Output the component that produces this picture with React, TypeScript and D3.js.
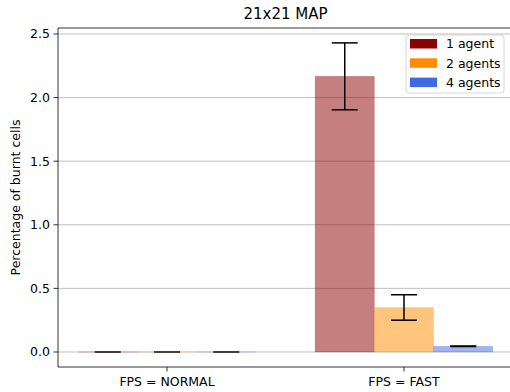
import React from 'react';
import * as d3 from 'd3';

const groups = ['FPS = NORMAL', 'FPS = FAST'];
const agentLabels = ['1 agent', '2 agents', '4 agents'];
const agentColors = ['#8b0000', '#ff8c00', '#4169e1'];
const means1 = [0, 2.167];
const errs1 = [0, 0.263];
const means2 = [0, 0.35];
const errs2 = [0, 0.1];
const means4 = [0, 0.045];
const errs4 = [0, 0.002];
const yTicks = [0, 0.5, 1.0, 1.5, 2.0, 2.5];

const W = 510;
const H = 392;
const left = 58, right = 513, top = 28, bottom = 367;
const barW = 0.25;
const font = 'DejaVu Sans, sans-serif';

const App = () => {
  const x = d3.scaleLinear().domain([-0.46, 1.46]).range([left, right]);
  const y = d3.scaleLinear().domain([-0.118, 2.547]).range([bottom, top]);
  const series = [
    { means: means1, errs: errs1 },
    { means: means2, errs: errs2 },
    { means: means4, errs: errs4 },
  ];
  const bw = x(barW) - x(0);

  return (
    <svg width={W} height={H} style={{ position: 'absolute', left: 0, top: 0, background: '#fff' }}>
      {/* grid */}
      {yTicks.map(t => (
        <line key={t} x1={left} x2={right} y1={y(t)} y2={y(t)} stroke="#b0b0b0" strokeWidth={0.8} />
      ))}
      {/* bars */}
      {series.map((s, si) =>
        groups.map((g, gi) => {
          const cx = x(gi + (si - 1) * barW);
          const x0 = cx - bw / 2;
          const y0 = y(0);
          const y1 = y(s.means[gi]);
          const p = d3.path();
          p.moveTo(x0, y0);
          p.lineTo(x0, y1);
          p.lineTo(x0 + bw, y1);
          p.lineTo(x0 + bw, y0);
          p.closePath();
          return (
            <path key={`${si}-${gi}`} d={p.toString()} fill={agentColors[si]} fillOpacity={0.5}
              stroke={agentColors[si]} strokeOpacity={0.15} strokeWidth={1} />
          );
        })
      )}
      {/* error bars */}
      {series.map((s, si) =>
        groups.map((g, gi) => {
          const cx = x(gi + (si - 1) * barW);
          const lo = y(s.means[gi] - s.errs[gi]);
          const hi = y(s.means[gi] + s.errs[gi]);
          return (
            <g key={`e${si}-${gi}`} stroke="#000" strokeWidth={1.5} strokeOpacity={s.errs[gi] === 0 ? 0.6 : 1}>
              <line x1={cx} x2={cx} y1={lo} y2={hi} />
              <line x1={cx - 13} x2={cx + 13} y1={lo} y2={lo} />
              <line x1={cx - 13} x2={cx + 13} y1={hi} y2={hi} />
            </g>
          );
        })
      )}
      {/* axes */}
      <line x1={left} x2={left} y1={top} y2={bottom} stroke="#000" strokeWidth={0.8} />
      <line x1={left} x2={right} y1={top} y2={top} stroke="#000" strokeWidth={0.8} />
      <line x1={left} x2={right} y1={bottom} y2={bottom} stroke="#000" strokeWidth={0.8} />
      {yTicks.map(t => (
        <g key={`yt${t}`}>
          <line x1={left - 4.5} x2={left} y1={y(t)} y2={y(t)} stroke="#000" strokeWidth={0.8} />
          <text x={left - 8} y={y(t)} dy="0.35em" textAnchor="end" fontFamily={font} fontSize={12.5} fill="#000">
            {t.toFixed(1)}
          </text>
        </g>
      ))}
      {groups.map((g, gi) => (
        <g key={g}>
          <line x1={x(gi)} x2={x(gi)} y1={bottom} y2={bottom + 4.5} stroke="#000" strokeWidth={0.8} />
          <text x={x(gi)} y={bottom + 19} textAnchor="middle" fontFamily={font} fontSize={12.5} fill="#000">
            {g}
          </text>
        </g>
      ))}
      <text transform={`translate(20,${(top + bottom) / 2}) rotate(-90)`} textAnchor="middle"
        fontFamily={font} fontSize={12.5} fill="#000">Percentage of burnt cells</text>
      <text x={(left + right) / 2} y={19} textAnchor="middle" fontFamily={font} fontSize={15} fill="#000">21x21 MAP</text>
      {/* legend */}
      <rect x={406} y={35} width={98} height={58} rx={3} fill="#fff" fillOpacity={0.8} stroke="#cccccc" strokeWidth={0.8} />
      {agentLabels.map((l, i) => (
        <g key={l}>
          <rect x={410} y={39 + i * 19.3} width={27} height={9.5} fill={agentColors[i]} />
          <text x={446} y={44 + i * 19.3} dy="0.35em" fontFamily={font} fontSize={12.5} fill="#000">{l}</text>
        </g>
      ))}
    </svg>
  );
};

export default App;
